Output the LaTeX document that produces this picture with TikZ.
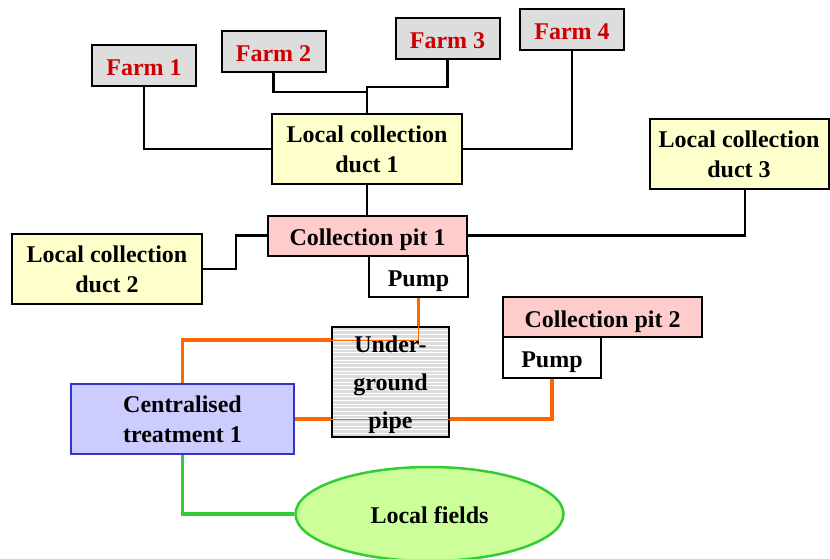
\documentclass[tikz,border=0pt]{standalone}
\usepackage{fontspec}
\setmainfont{Liberation Serif}
\usetikzlibrary{shapes.geometric}
\definecolor{farmfill}{RGB}{221,221,221}
\definecolor{farmtext}{RGB}{204,0,0}
\definecolor{ductfill}{RGB}{255,255,204}
\definecolor{pitfill}{RGB}{255,204,204}
\definecolor{ctfill}{RGB}{204,204,255}
\definecolor{ctdraw}{RGB}{51,51,204}
\definecolor{lffill}{RGB}{204,255,153}
\definecolor{lfgreen}{RGB}{51,204,51}
\definecolor{pipeorange}{RGB}{255,102,0}
\definecolor{pipegray}{RGB}{220,220,220}
\begin{document}
\begin{tikzpicture}[x=1pt,y=-1pt,
  lbl/.style={font=\bfseries\fontsize{24}{30}\selectfont, align=center},
  oneline/.style={text height=20pt, text depth=0pt},
  box/.style={lbl, draw=black, line width=2pt, inner sep=0pt, rectangle},
  farm/.style={box, oneline, fill=farmfill, text=farmtext, minimum width=104pt, minimum height=41pt},
  duct/.style={box, fill=ductfill, minimum height=70pt},
  pit/.style={box, oneline, fill=pitfill, minimum width=199pt, minimum height=40pt},
  pumpbox/.style={box, oneline, fill=white, minimum height=41pt},
  conn/.style={draw=black, line width=2.5pt},
  opipe/.style={draw=pipeorange, line width=3.2pt},
  othin/.style={draw=pipeorange, line width=0.8pt},
  gpipe/.style={draw=lfgreen, line width=3.2pt}]
\useasboundingbox (0,0) rectangle (830,558);

% nodes
\node[farm] (f1) at (144,65) {Farm 1};
\node[farm] (f2) at (273.5,51) {Farm 2};
\node[farm] (f3) at (447.5,38.5) {Farm 3};
\node[farm] (f4) at (572,29.5) {Farm 4};
\node[duct, minimum width=190pt] (d1) at (367,149) {Local collection\\duct 1};
\node[duct, minimum width=190pt] (d2) at (107,269) {Local collection\\duct 2};
\node[duct, minimum width=179pt] (d3) at (739,154) {Local collection\\duct 3};
\node[pit] (p1) at (367.5,235.5) {Collection pit 1};
\node[pumpbox, minimum width=99pt] (pump1) at (418.5,276.5) {Pump};
\node[pit] (p2) at (602.5,317) {Collection pit 2};
\node[pumpbox, minimum width=98pt] (pump2) at (552,357.5) {Pump};
\node[box, draw=ctdraw, fill=ctfill, minimum width=223pt, minimum height=70pt] (ct) at (182.5,419) {Centralised\\treatment 1};
\node[lbl, ellipse, draw=lfgreen, line width=2.5pt, fill=lffill, minimum width=268pt, minimum height=94pt, inner sep=0pt, text height=19pt, text depth=0pt] (lf) at (429.5,514) {Local fields};
\node[draw=black, line width=2pt, fill=pipegray, minimum width=117pt, minimum height=110pt, inner sep=0pt,
  path picture={\foreach \i in {1,...,30} \draw[white,line width=0.9pt] ([yshift=-\i*3.67pt]path picture bounding box.north west) -- ([yshift=-\i*3.67pt]path picture bounding box.north east);}] (up) at (390.5,382) {};

% black connectors
\coordinate (j2) at (367,92);
\coordinate (j3) at (367,87);
\draw[conn] (f1.south) |- (d1.west);
\draw[conn] (f2.south) |- (j2);
\draw[conn] (f3.south) |- (j3) -- (d1.north);
\draw[conn] (f4.south) |- (d1.east);
\draw[conn] (d1.south) -- (d1.south |- p1.north);
\draw[conn] (d2.east) -- ++(33,0) |- (p1.west);
\draw[conn] ([xshift=6pt]d3.south) |- (p1.east);

% orange pipes
\coordinate (o1) at (pump1.south |- 0,340);
\draw[opipe] (pump1.south) -- (pump1.south |- up.north);
\draw[opipe] (ct.north) |- (up.west |- o1);
\draw[othin] (up.west |- o1) -- (o1) -- (o1 |- up.north);
\draw[opipe] (ct.east) -- (up.west |- ct.east);
\draw[othin] (up.west |- ct.east) -- (up.east |- ct.east);
\draw[opipe] (up.east |- ct.east) -| (pump2.south);

% green pipe
\draw[gpipe] (ct.south) |- (lf.west);

\node[lbl, font=\bfseries\fontsize{24}{38}\selectfont] (uptext) at (390.5,385) {Under-\\ground\\pipe};
\end{tikzpicture}
\end{document}
